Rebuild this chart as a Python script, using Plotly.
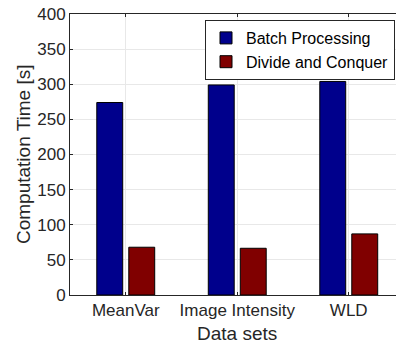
import plotly.graph_objects as go

categories = ["MeanVar", "Image Intensity", "WLD"]
positions = [1, 2, 3]
batch_processing = [274, 299, 304]
divide_and_conquer = [68, 66.5, 87]
y_ticks = [0, 50, 100, 150, 200, 250, 300, 350, 400]

FONT = "Liberation Sans, Arial, Helvetica, sans-serif"
AXIS_COLOR = "#262626"
GRID_COLOR = "#e8e8e8"

W, H = 396, 343
L, R, T, B = 70, 0, 14, 48
plot_w = W - L - R
plot_h = H - T - B


def px_x(x):  # pixel -> paper x
    return (x - L) / plot_w


def px_y(y):  # pixel -> paper y
    return (H - B - y) / plot_h


fig = go.Figure()
fig.add_trace(go.Bar(
    x=positions, y=batch_processing, name="Batch Processing",
    marker=dict(color="rgb(0,0,140)", line=dict(color="black", width=1)),
))
fig.add_trace(go.Bar(
    x=positions, y=divide_and_conquer, name="Divide and Conquer",
    marker=dict(color="rgb(128,0,0)", line=dict(color="black", width=1)),
))
# invisible trace to carry the top axis
fig.add_trace(go.Scatter(x=[1], y=[0], xaxis="x2", mode="markers",
                         marker=dict(opacity=0), showlegend=False, hoverinfo="skip"))

x_range = [0.5, 0.5 + plot_w / 111.5]

fig.update_layout(
    width=W, height=H,
    margin=dict(l=L, r=R, t=T, b=B, pad=0),
    paper_bgcolor="white", plot_bgcolor="white",
    font=dict(family=FONT, size=16, color=AXIS_COLOR),
    barmode="group", bargap=0.426, bargroupgap=0.19,
    showlegend=True,
    legend=dict(
        x=px_x(395), y=px_y(20), xanchor="right", yanchor="top",
        bgcolor="white", bordercolor=AXIS_COLOR, borderwidth=1,
        font=dict(family=FONT, size=16, color="black"),
        tracegroupgap=0, itemwidth=30,
    ),
    xaxis=dict(
        range=x_range, tickmode="array", tickvals=positions, ticktext=categories,
        showgrid=True, gridcolor=GRID_COLOR, gridwidth=1,
        showline=True, linecolor=AXIS_COLOR, linewidth=1,
        ticks="inside", ticklen=3, tickcolor=AXIS_COLOR,
        tickfont=dict(size=17, color=AXIS_COLOR),
        zeroline=False, automargin=False,
    ),
    xaxis2=dict(
        range=x_range, overlaying="x", side="top", anchor="y",
        tickmode="array", tickvals=positions, ticktext=["", "", ""],
        showgrid=False, showline=True, linecolor=AXIS_COLOR, linewidth=1,
        ticks="inside", ticklen=3, tickcolor=AXIS_COLOR, zeroline=False,
        automargin=False,
    ),
    yaxis=dict(
        range=[0, 400], tickmode="array", tickvals=y_ticks,
        showgrid=True, gridcolor=GRID_COLOR, gridwidth=1,
        showline=True, linecolor=AXIS_COLOR, linewidth=1,
        ticks="inside", ticklen=3, tickcolor=AXIS_COLOR,
        tickfont=dict(size=17, color=AXIS_COLOR),
        zeroline=False, automargin=False, ticklabeloverflow="allow",
    ),
    annotations=[
        dict(text="Data sets", xref="x", yref="paper", x=2, y=px_y(333),
             xanchor="center", yanchor="middle", showarrow=False,
             font=dict(size=19, color=AXIS_COLOR, family=FONT)),
        dict(text="Computation Time [s]", xref="paper", yref="paper",
             x=px_x(23.5), y=0.5, textangle=-90,
             xanchor="center", yanchor="middle", showarrow=False,
             font=dict(size=19, color=AXIS_COLOR, family=FONT)),
    ],
)

# remove the browser's default 8px body margin so the figure fills the window
fig.write_html("out.html", config={"displayModeBar": False},
               post_script="document.body.style.margin='0';")
